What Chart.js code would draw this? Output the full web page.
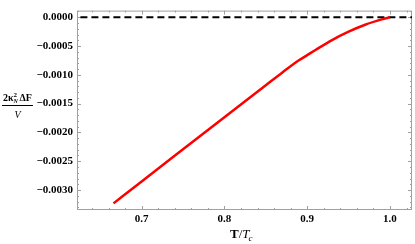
<!DOCTYPE html>
<html>
<head>
<meta charset="utf-8">
<script src="https://cdn.jsdelivr.net/npm/chart.js@4.4.1/dist/chart.umd.min.js"></script>
<style>
  body { margin: 0; background: #fff; }
  canvas { display: block; }
</style>
</head>
<body>
<canvas id="chart" width="415" height="244"></canvas>
<script>
// values
const tValues = [0.666, 0.70, 0.75, 0.80, 0.85, 0.87, 0.89, 0.90, 0.91, 0.93, 0.95, 0.97, 0.99, 1.00];
const freeEnergy = [-0.003231, -0.00285, -0.002293, -0.001737, -0.00118, -0.000958, -0.000747, -0.000658, -0.000569, -0.000396, -0.00025, -0.00013, -0.000038, 0.0];

const zeroLineT = [0.626, 1.0266];
const zeroLineF = [0, 0];

const xTicks = [0.7, 0.8, 0.9, 1.0];
const yTicks = [0, -0.0005, -0.001, -0.0015, -0.002, -0.0025, -0.003];

const xMin = 0.6219, xMax = 1.0266;
const yMin = -0.003346, yMax = 0.000115;

const serif = '"Liberation Serif", "DejaVu Serif", serif';
const frameColor = '#a0a0a0';

function fmtY(v) {
    if (Math.abs(v) < 1e-12) return '0.0000';
    return (v < 0 ? '\u2212' : '') + Math.abs(v).toFixed(4);
}

// gray frame with inward ticks, Mathematica style
const framePlugin = {
    id: 'frame',
    beforeDatasetsDraw(chart) {
        const ctx = chart.ctx;
        const a = chart.chartArea;
        const xs = chart.scales.x;
        const ys = chart.scales.y;
        ctx.save();
        ctx.strokeStyle = frameColor;
        ctx.lineWidth = 1;
        ctx.strokeRect(a.left + 0.5, a.top + 0.5, a.right - a.left - 1, a.bottom - a.top - 1);

        ctx.beginPath();
        for (let i = 31; i <= 51; i++) {
            const v = i * 0.02;
            if (v < xMin || v > xMax) continue;
            const major = i % 5 === 0;
            const len = major ? 4 : 2;
            const px = Math.round(xs.getPixelForValue(v)) + 0.5;
            ctx.moveTo(px, a.bottom);
            ctx.lineTo(px, a.bottom - len);
            ctx.moveTo(px, a.top);
            ctx.lineTo(px, a.top + len);
        }
        for (let i = -33; i <= 1; i++) {
            const v = i * 0.0001;
            if (v < yMin || v > yMax) continue;
            const major = i % 5 === 0;
            const len = major ? 4 : 2;
            const py = Math.round(ys.getPixelForValue(v)) + 0.5;
            ctx.moveTo(a.left, py);
            ctx.lineTo(a.left + len, py);
            ctx.moveTo(a.right, py);
            ctx.lineTo(a.right - len, py);
        }
        ctx.stroke();
        ctx.restore();
    },
    afterDraw(chart) {
        const ctx = chart.ctx;
        ctx.save();
        ctx.fillStyle = '#000';
        ctx.textBaseline = 'alphabetic';

        // y title: 2κ²_N ΔF / V
        let x = 3;
        const base = 101;
        ctx.font = 'bold 10px ' + serif;
        ctx.fillText('2\u03ba', x, base);
        x += ctx.measureText('2\u03ba').width;
        ctx.font = 'bold 7px ' + serif;
        ctx.fillText('2', x, base - 4);
        ctx.font = 'italic bold 6px ' + serif;
        ctx.fillText('N', x, base + 2);
        x += 6;
        ctx.font = 'bold 10px ' + serif;
        ctx.fillText('\u0394F', x, base);
        x += ctx.measureText('\u0394F').width;
        ctx.fillRect(2, 105, x - 1, 1);
        ctx.font = 'italic 10px ' + serif;
        ctx.textAlign = 'center';
        ctx.fillText('V', (x + 3) / 2, 118);

        // x title: T/T_c
        ctx.textAlign = 'left';
        let tx = 230;
        const tb = 238;
        ctx.font = 'bold 13px ' + serif;
        ctx.fillText('T', tx, tb);
        tx += ctx.measureText('T').width;
        ctx.font = '13px ' + serif;
        ctx.fillText('/', tx, tb);
        tx += ctx.measureText('/').width;
        ctx.font = 'italic 13px ' + serif;
        ctx.fillText('T', tx, tb);
        tx += ctx.measureText('T').width - 1;
        ctx.font = 'italic 9px ' + serif;
        ctx.fillText('c', tx, tb + 3);
        ctx.restore();
    }
};

const ctx = document.getElementById('chart').getContext('2d');
new Chart(ctx, {
    type: 'line',
    data: {
        datasets: [{
            data: tValues.map((t, i) => ({ x: t, y: freeEnergy[i] })),
            borderColor: '#ff0000',
            borderWidth: 2.5,
            pointRadius: 0,
            cubicInterpolationMode: 'monotone',
            fill: false,
        }, {
            data: zeroLineT.map((t, i) => ({ x: t, y: zeroLineF[i] })),
            borderColor: '#000000',
            borderWidth: 2,
            borderDash: [7, 4],
            pointRadius: 0,
            fill: false,
        }],
    },
    options: {
        responsive: false,
        animation: false,
        devicePixelRatio: 1,
        layout: { padding: { top: 0, right: 3, bottom: 0, left: 0 } },
        plugins: {
            legend: { display: false },
            tooltip: { enabled: false },
        },
        scales: {
            x: {
                type: 'linear',
                min: xMin,
                max: xMax,
                afterBuildTicks: s => { s.ticks = xTicks.map(v => ({ value: v })); },
                afterFit: s => { s.height = 34; },
                grid: { display: false, drawTicks: false },
                border: { display: false },
                ticks: {
                    padding: 3,
                    color: '#000',
                    font: { family: serif, size: 11, weight: 'bold' },
                    callback: v => v.toFixed(1),
                },
            },
            y: {
                type: 'linear',
                min: yMin,
                max: yMax,
                afterBuildTicks: s => { s.ticks = yTicks.map(v => ({ value: v })); },
                afterFit: s => { s.width = 77; },
                grid: { display: false, drawTicks: false },
                border: { display: false },
                ticks: {
                    padding: 4,
                    color: '#000',
                    font: { family: serif, size: 11, weight: 'bold' },
                    callback: v => fmtY(v),
                },
            },
        },
    },
    plugins: [framePlugin],
});
</script>
</body>
</html>
